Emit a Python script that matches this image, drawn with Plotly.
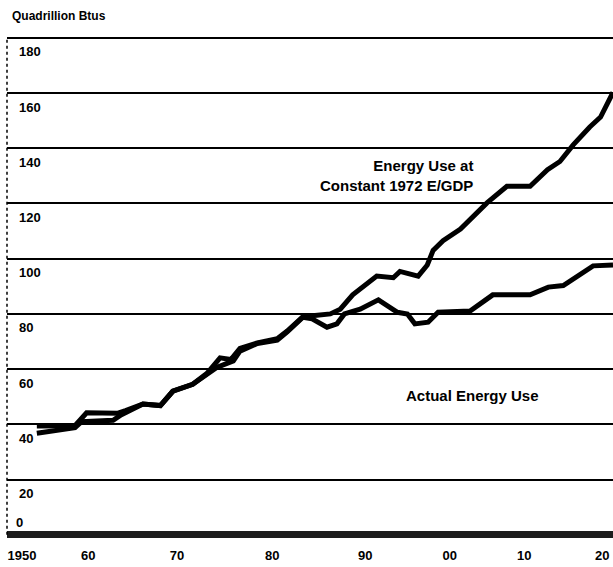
import plotly.graph_objects as go

# Values (year, quadrillion Btus)
actual_years = [1951.8, 1956.4, 1957.2, 1961.0, 1962.0, 1964.6, 1966.7, 1968.2, 1970.6,
                1972.3, 1973.5, 1975.5, 1976.3, 1978.4, 1980.8, 1982.0, 1983.9, 1985.0,
                1986.8, 1988.0, 1988.9, 1990.8, 1993.0, 1995.3, 1996.5, 1997.4, 1999.0,
                2000.2, 2004.1, 2006.8, 2011.3, 2013.5, 2015.3, 2018.9, 2021.3]
actual_use = [36.8, 38.8, 41.0, 41.5, 43.5, 47.4, 46.8, 52.0, 54.5,
              58.4, 60.6, 63.0, 66.5, 69.3, 70.5, 73.5, 78.8, 78.2,
              75.2, 76.4, 80.0, 81.7, 85.1, 80.6, 80.0, 76.4, 77.0,
              80.6, 81.1, 86.9, 86.9, 89.7, 90.3, 97.4, 97.7]

const_years = [1951.8, 1956.4, 1957.8, 1961.5, 1962.5, 1964.6, 1966.7, 1968.2, 1970.6,
               1972.3, 1973.9, 1975.2, 1976.3, 1978.4, 1980.8, 1982.0, 1983.9, 1987.2,
               1988.4, 1989.9, 1992.8, 1994.8, 1995.6, 1997.8, 1998.9, 1999.6, 2000.8,
               2002.9, 2006.1, 2008.5, 2011.3, 2013.4, 2014.9, 2016.5, 2018.5, 2019.8, 2021.3]
const_use = [39.4, 39.5, 44.2, 44.0, 45.0, 47.4, 46.8, 52.0, 54.5,
             58.4, 64.1, 63.5, 67.5, 69.5, 71.0, 73.8, 79.0, 80.0,
             81.7, 86.9, 93.7, 93.1, 95.4, 93.7, 97.7, 103.0, 106.5,
             110.7, 120.2, 126.2, 126.2, 132.2, 135.2, 141.2, 147.7, 151.3, 160.2]

# the decade labels sit unevenly along the axis in the scan
x_tickvals = [1950, 1958.0, 1968.7, 1980.2, 1991.4, 2001.6, 2010.6, 2020.0]
x_ticktext = ["1950", "60", "70", "80", "90", "00", "10", "20"]
y_tickvals = [20, 40, 60, 80, 100, 120, 140, 160, 180]

FONT = "Liberation Sans, Arial, sans-serif"

fig = go.Figure()
fig.add_trace(go.Scatter(x=actual_years, y=actual_use, mode="lines",
                         line=dict(color="black", width=5), name="Actual Energy Use"))
fig.add_trace(go.Scatter(x=const_years, y=const_use, mode="lines",
                         line=dict(color="black", width=5),
                         name="Energy Use at Constant 1972 E/GDP"))

# dashed left axis
fig.add_shape(type="line", xref="paper", yref="y", x0=0, x1=0, y0=0, y1=180,
              line=dict(color="black", width=1.5, dash="dot"))

fig.add_annotation(x=2004.7, y=130.2, xanchor="right", yanchor="middle", showarrow=False,
                   align="right",
                   text="Energy Use at<br>Constant 1972 E/GDP",
                   font=dict(family=FONT, size=15, color="black", weight="bold"))
fig.add_annotation(x=2004.4, y=50.5, xanchor="center", yanchor="middle", showarrow=False,
                   text="Actual Energy Use",
                   font=dict(family=FONT, size=15, color="black", weight="bold"))
fig.add_annotation(x=0.012, xref="paper", y=0, xanchor="left", yanchor="bottom",
                   yshift=3, showarrow=False, text="0",
                   font=dict(family=FONT, size=13, color="black", weight="bold"))
fig.add_annotation(x=0.005, xref="paper", y=1, yref="paper", yshift=19,
                   xanchor="left", yanchor="middle", showarrow=False,
                   text="Quadrillion Btus",
                   font=dict(family=FONT, size=12, color="black", weight="bold"))

fig.update_layout(
    width=613, height=567,
    margin=dict(l=7, r=0, t=35, b=28),
    paper_bgcolor="white", plot_bgcolor="white",
    showlegend=False,
    font=dict(family=FONT, color="black"),
    xaxis=dict(range=[1948.2, 2021.3], tickvals=x_tickvals, ticktext=x_ticktext,
               showgrid=False, zeroline=False, showline=False, ticks="",
               ticklabelstandoff=7, ticklabeloverflow="allow",
               tickfont=dict(family=FONT, size=13, color="black", weight="bold")),
    yaxis=dict(range=[-1.5, 181], tickvals=y_tickvals,
               showgrid=True, gridcolor="black", gridwidth=1.5,
               zeroline=True, zerolinecolor="#1c1c1c", zerolinewidth=7,
               showline=False, ticks="", ticklabelposition="inside",
               ticklabelstandoff=9, ticklabelshift=14, ticklabeloverflow="allow",
               tickfont=dict(family=FONT, size=13, color="black", weight="bold")),
)

# the page body has an 8px default margin; remove it so the figure sits at 0,0
fig.write_html("out.html", config={"displayModeBar": False},
               post_script="document.body.style.margin = '0';")
